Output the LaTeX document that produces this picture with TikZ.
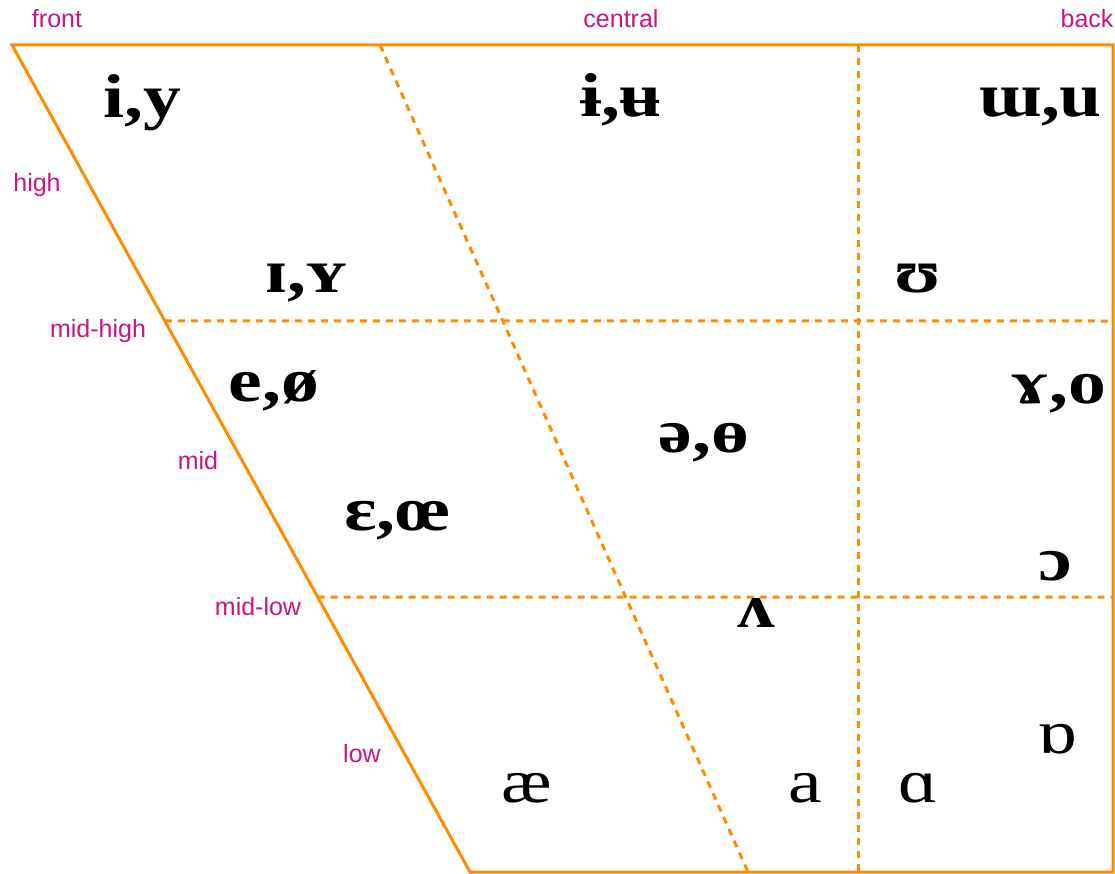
\documentclass[tikz,border=0pt]{standalone}
\usepackage{fontspec}
\setmainfont{Liberation Serif}
\newfontfamily\labelfont{Liberation Sans}
\newfontfamily\vowelfont[FakeStretch=1.22]{Liberation Serif}
\usetikzlibrary{calc}
\definecolor{chartorange}{RGB}{255,140,0}
\definecolor{labelmagenta}{RGB}{199,21,133}
\tikzset{
  frame/.style={draw=chartorange, line width=3pt, line join=miter},
  divider/.style={draw=chartorange, line width=3pt, dash pattern=on 7pt off 6pt},
  axislabel/.style={font=\labelfont\fontsize{25}{29}\selectfont, text=labelmagenta, inner sep=0pt},
  vowel/.style={font=\vowelfont\fontsize{62}{70}\selectfont\bfseries, anchor=base, inner sep=0pt},
  vowelreg/.style={font=\vowelfont\fontsize{62}{70}\selectfont, anchor=base, inner sep=0pt},
}
\begin{document}
\begin{tikzpicture}[x=1pt,y=-1pt]
\useasboundingbox (0,0) rectangle (1115,874);
% corners
\coordinate (TL) at (12,45);
\coordinate (TR) at (1113,45);
\coordinate (BR) at (1113,872);
\coordinate (BL) at (470,872);
% divider ends
\coordinate (ST) at (380,45);
\coordinate (SB) at (748,872);
\coordinate (VT) at (858,45);
\coordinate (VB) at (858,872);
\coordinate (H1L) at ($(TL)!0.3337!(BL)$);
\coordinate (H1R) at (1110,321);
\coordinate (H2L) at ($(TL)!0.6675!(BL)$);
\coordinate (H2R) at (1113,597);
% dividers
\draw[divider] (ST) -- (SB);
\draw[divider] (VT) -- (VB);
\draw[divider] (H1L) -- (H1R);
\draw[divider] (H2L) -- (H2R);
% frame
\draw[frame] (TL) -- (TR) -- (BR) -- (BL) -- cycle;
% axis labels
\node[axislabel] (front) at (57,19) {front};
\node[axislabel] (central) at (621,19) {central};
\node[axislabel] (back) at (1087,19) {back};
\node[axislabel] (high) at (37,185) {high};
\node[axislabel] (midhigh) at (98,331) {mid-high};
\node[axislabel] (mid) at (198,461) {mid};
\node[axislabel] (midlow) at (258,607) {mid-low};
\node[axislabel] (low) at (362,754) {low};
% vowels
\node[vowel] (iy) at (142,118) {i,y};
\node[vowel] (barred) at (621,117) {ɨ,ʉ};
\node[vowel] (wu) at (1040,117) {ɯ,u};
\node[vowel] (IY) at (306,292) {ɪ,ʏ};
\node[vowel] (hu) at (918,292) {ʊ};
\node[vowel] (eo) at (274,401) {e,ø};
\node[vowel] (go) at (1058,403) {ɤ,o};
\node[vowel] (schwa) at (704,452) {ə,ɵ};
\node[vowel] (Eoe) at (397,530) {ɛ,œ};
\node[vowel] (oo) at (1055,580) {ɔ};
\node[vowel] (vv) at (756,627) {ʌ};
\node[vowelreg] (ae) at (527,802) {æ};
\node[vowelreg] (a) at (805,802) {a};
\node[vowelreg] (aa) at (918,802) {ɑ};
\node[vowelreg] (ob) at (1057,753) {ɒ};
\end{tikzpicture}
\end{document}
